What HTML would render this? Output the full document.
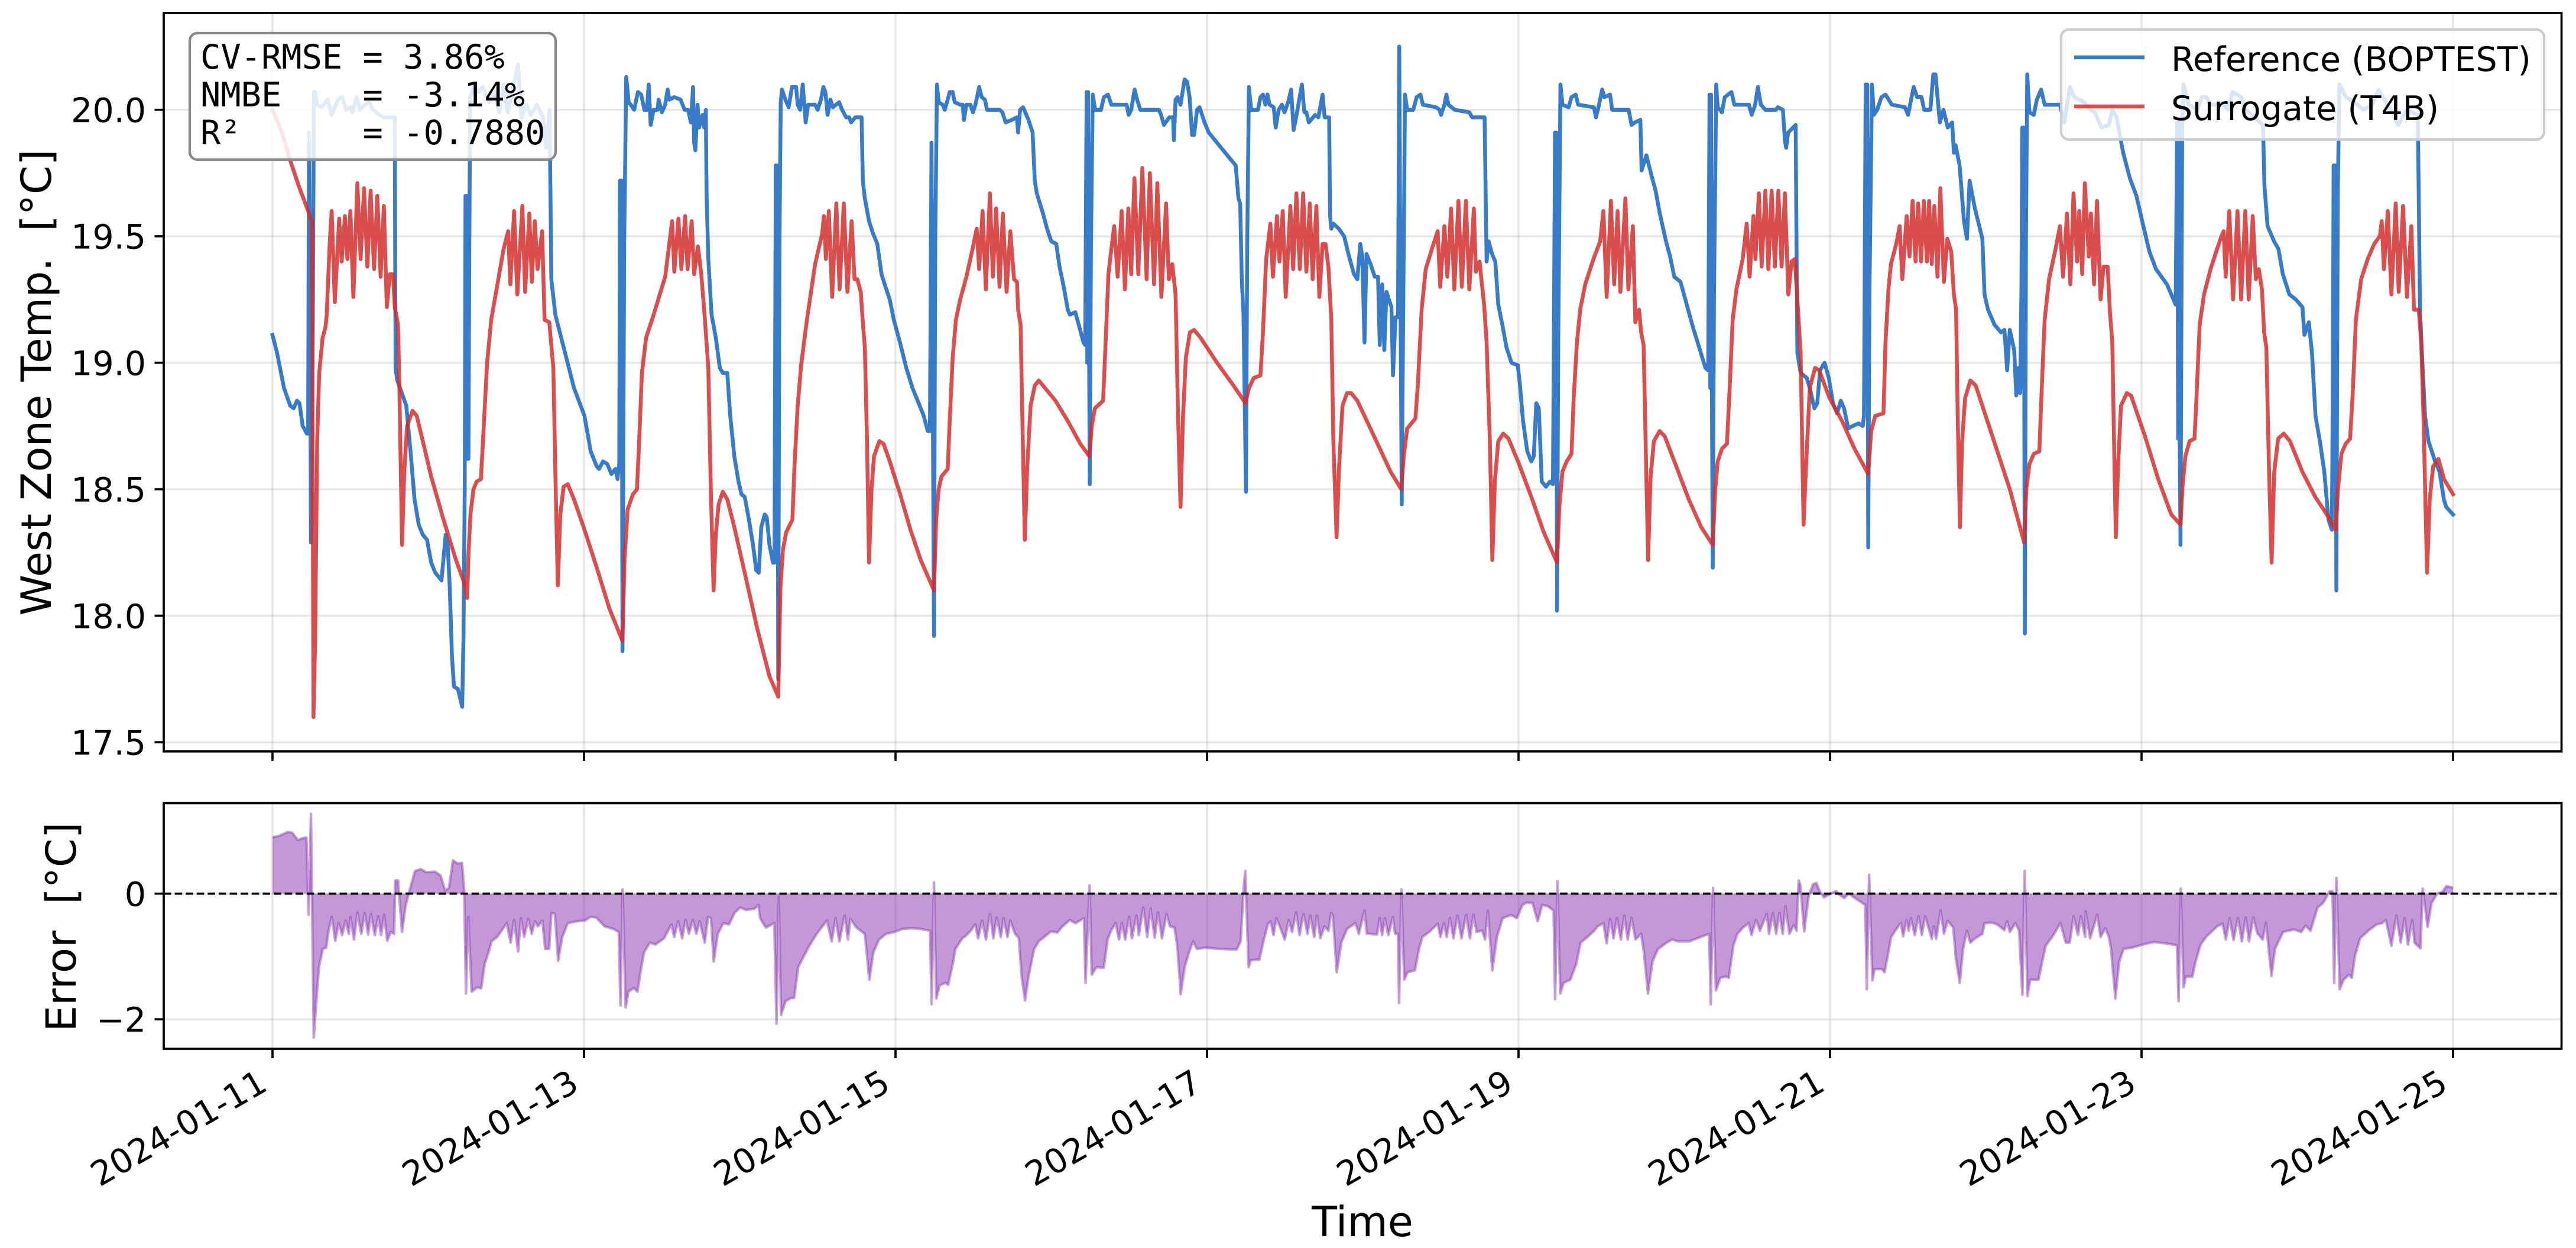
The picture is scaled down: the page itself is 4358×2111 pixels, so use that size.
<!DOCTYPE html>
<html lang="en">
<head>
<meta charset="utf-8">
<title>West Zone Temperature: Reference vs Surrogate</title>
<style>
html,body{margin:0;padding:0;background:#fff;}
svg{display:block;}
text{font-family:"DejaVu Sans","Liberation Sans",sans-serif;fill:#000;}
.mono{font-family:"DejaVu Sans Mono","Liberation Mono",monospace;white-space:pre;}
</style>
</head>
<body>
<svg id="chart" xmlns="http://www.w3.org/2000/svg" width="4358" height="2111" viewBox="0 0 4358 2111">
  <rect x="0" y="0" width="4358" height="2111" fill="#fff"/>
  <defs>
    <clipPath id="clip-top"><rect x="277" y="22" width="4056.5" height="1249"/></clipPath>
    <clipPath id="clip-bottom"><rect x="277" y="1358.5" width="4056.5" height="415.5"/></clipPath>
  </defs>
  <g id="top-grid"></g>
  <g id="bottom-grid"></g>
  <g id="top-series" clip-path="url(#clip-top)"></g>
  <g id="bottom-series" clip-path="url(#clip-bottom)"></g>

  <g>
    <rect x="321" y="56" width="619" height="214" rx="13" ry="13" fill="#fff" fill-opacity="0.85" stroke="#888" stroke-width="4.2"/>
    <text class="mono" x="339" y="116" font-size="57" xml:space="preserve">CV-RMSE = 3.86%</text>
    <text class="mono" x="339" y="180" font-size="57" xml:space="preserve">NMBE    = -3.14%</text>
    <text class="mono" x="339" y="244" font-size="57" xml:space="preserve">R²      = -0.7880</text>
  </g>

  <g>
    <rect x="3487" y="50" width="817" height="186" rx="13" ry="13" fill="#fff" fill-opacity="0.8" stroke="#ccc" stroke-width="4.2"/>
    <line x1="3509" x2="3628" y1="97" y2="97" stroke="#1565C0" stroke-opacity="0.85" stroke-width="6.5"/>
    <text x="3673" y="120" font-size="57">Reference (BOPTEST)</text>
    <line x1="3509" x2="3628" y1="180" y2="180" stroke="#D32F2F" stroke-opacity="0.85" stroke-width="6.5"/>
    <text x="3673" y="203" font-size="57">Surrogate (T4B)</text>
  </g>

  <g id="axes-marks"></g>

  <rect x="277" y="22" width="4056.5" height="1249" fill="none" stroke="#000" stroke-width="3.7"/>
  <rect x="277" y="1358.5" width="4056.5" height="415.5" fill="none" stroke="#000" stroke-width="3.7"/>

  <text transform="translate(86,647) rotate(-90)" text-anchor="middle" font-size="70.2" xml:space="preserve">West Zone Temp.  [°C]</text>
  <text transform="translate(128,1568) rotate(-90)" text-anchor="middle" font-size="70.2" xml:space="preserve">Error  [°C]</text>
  <text x="2305" y="2091" text-anchor="middle" font-size="70.2">Time</text>
</svg>

<script>
// Tick values and labels
const dateTickDays = [0, 2, 4, 6, 8, 10, 12, 14];
const dateTickLabels = ['2024-01-11', '2024-01-13', '2024-01-15', '2024-01-17', '2024-01-19', '2024-01-21', '2024-01-23', '2024-01-25'];
const tempTicks = [17.5, 18.0, 18.5, 19.0, 19.5, 20.0];
const tempTickLabels = ['17.5', '18.0', '18.5', '19.0', '19.5', '20.0'];
const errorTicks = [-2, 0];
const errorTickLabels = ['\u22122', '0'];

// Reference (BOPTEST): days since 2024-01-11 00:00 and zone temperature in °C
const referenceDays = [
0,.029,.074,.114,.136,.157,.173,.194,.221,.229,.234,.242,.247,.258,.266,.274,.287,.314,.354,.38,.42,.447,.473,.5,.513,.54,.561,.593,.62,.646,.686,.713,.785,.79,.801,.819,.859,.886,.912,.939,.965,.992,1.019,1.045,1.085,1.112,1.125,1.138,1.152,1.165,1.191,1.218,
1.226,1.234,1.239,1.244,1.248,1.254,1.258,1.264,1.269,1.298,1.324,1.351,1.391,1.431,1.457,1.484,1.511,1.577,1.598,1.63,1.657,1.697,1.737,1.758,1.779,1.79,1.816,1.87,1.936,2.003,2.043,2.082,2.096,2.122,2.149,2.176,2.202,2.215,
2.226,2.231,2.236,2.241,2.247,2.258,2.271,2.287,2.3,2.322,2.346,2.367,2.388,2.404,2.415,2.428,2.447,2.473,2.479,2.5,2.521,2.537,2.548,2.58,2.62,2.646,2.668,2.686,2.7,2.707,2.715,2.729,2.739,2.761,2.771,2.782,2.787,2.798,2.819,2.846,2.872,2.891,2.92,2.939,2.965,2.992,3.011,3.032,3.059,3.085,3.106,3.122,3.138,3.16,3.173,3.191,3.213,3.223,
3.231,3.236,3.241,3.247,3.255,3.263,3.271,3.293,3.314,3.335,3.362,3.372,3.388,3.404,3.423,3.439,3.484,3.5,3.521,3.537,3.55,3.564,3.582,3.598,3.638,3.657,3.683,3.702,3.715,3.742,3.782,3.79,3.803,3.83,3.856,3.883,3.91,3.936,3.963,3.989,4.029,4.069,4.109,4.149,4.181,4.207,4.221,
4.231,4.239,4.247,4.255,4.266,4.277,4.303,4.316,4.335,4.348,4.367,4.38,4.415,4.431,4.439,4.455,4.481,4.497,4.513,4.537,4.553,4.574,4.588,4.668,4.686,4.707,4.747,4.779,4.787,4.8,4.819,4.854,4.88,4.894,4.907,4.947,4.973,5,5.032,5.053,5.08,5.106,5.12,5.154,5.181,5.207,5.218,
5.227,5.231,5.236,5.241,5.247,5.255,5.266,5.282,5.319,5.338,5.364,5.386,5.465,5.484,5.497,5.513,5.535,5.551,5.572,5.691,5.705,5.723,5.758,5.782,5.787,5.798,5.811,5.83,5.856,5.872,5.888,5.904,5.917,5.936,5.952,5.984,6.011,6.077,6.144,6.184,6.202,6.213,
6.223,6.234,6.25,6.258,6.269,6.283,6.327,6.343,6.359,6.375,6.388,6.402,6.428,6.441,6.46,6.481,6.497,6.521,6.54,6.556,6.575,6.609,6.625,6.638,6.654,6.694,6.715,6.742,6.755,6.784,6.79,6.798,6.811,6.846,6.88,6.912,6.944,6.965,6.984,6.997,7.011,7.024,7.05,7.077,7.098,7.109,7.125,7.138,7.152,7.184,7.194,7.21,7.226,
7.234,7.242,7.25,7.258,7.271,7.285,7.324,7.346,7.37,7.386,7.471,7.492,7.503,7.524,7.537,7.55,7.59,7.684,7.702,7.782,7.795,7.808,7.83,7.851,7.87,7.896,7.923,7.955,7.995,8.008,8.029,8.056,8.082,8.098,8.114,8.13,8.149,8.176,8.202,8.221,
8.229,8.234,8.239,8.243,8.247,8.255,8.269,8.282,8.322,8.34,8.367,8.383,8.484,8.497,8.513,8.537,8.551,8.588,8.601,8.707,8.726,8.747,8.782,8.79,8.821,8.854,8.88,8.907,8.947,8.973,9,9.04,9.08,9.12,9.16,9.2,9.218,
9.226,9.231,9.236,9.24,9.247,9.255,9.269,9.279,9.306,9.324,9.367,9.386,9.479,9.497,9.519,9.537,9.556,9.585,9.652,9.665,9.697,9.71,9.718,9.731,9.779,9.79,9.811,9.851,9.87,9.899,9.918,9.936,9.965,9.992,10.019,10.045,10.069,10.09,10.117,10.144,10.184,10.21,10.218,
10.229,10.234,10.239,10.245,10.253,10.269,10.282,10.303,10.33,10.356,10.397,10.481,10.501,10.537,10.559,10.587,10.604,10.644,10.663,10.677,10.705,10.728,10.756,10.784,10.795,10.806,10.832,10.86,10.879,10.896,10.93,10.978,10.992,11.014,11.056,11.098,11.12,11.137,11.154,11.182,11.196,11.209,11.221,
11.229,11.234,11.239,11.243,11.251,11.258,11.266,11.28,11.308,11.328,11.355,11.378,11.476,11.504,11.54,11.568,11.63,11.672,11.7,11.742,11.79,11.812,11.84,11.882,11.925,11.967,12.008,12.05,12.093,12.163,12.219,
12.229,12.235,12.24,12.245,12.25,12.261,12.27,12.303,12.359,12.387,12.416,12.444,12.528,12.556,12.584,12.64,12.669,12.78,12.789,12.809,12.851,12.879,12.907,12.949,12.991,13.033,13.046,13.074,13.094,13.117,13.145,13.173,13.2,13.222,
13.229,13.233,13.238,13.243,13.251,13.26,13.27,13.312,13.368,13.424,13.48,13.522,13.55,13.592,13.648,13.704,13.774,13.788,13.8,13.82,13.842,13.885,13.913,13.941,13.956,14
];
const referenceTemps = [
19.11,19.04,18.9,18.83,18.82,18.85,18.84,18.75,18.72,18.72,19.91,19.08,18.29,19.08,20.07,20.07,20.02,20.01,20.04,19.98,20.04,20.05,20,20.01,19.99,20.05,20,20.02,20.03,20,19.98,19.97,19.97,18.98,18.93,18.9,18.83,18.65,18.46,18.36,18.32,18.3,18.21,18.17,18.14,18.32,18.28,18.11,17.84,17.72,17.71,17.64,
17.91,18.5,19.66,18.9,19.66,18.62,18.62,19.5,20.05,20.1,20.07,20.09,20.03,20.07,19.99,20.1,19.99,20.18,19.97,20.02,19.98,20.02,19.97,19.85,20,19.33,19.19,19.06,18.9,18.79,18.65,18.59,18.58,18.61,18.6,18.56,18.58,18.54,
18.6,19.72,18.6,19.72,17.86,19.47,20.13,20.03,20.02,20,20.07,20.06,20,20,20.1,19.94,20,20,20.04,19.99,20.02,20.08,20.04,20.05,20.04,20,20,19.95,20.09,19.87,19.84,20.02,19.93,19.98,19.93,20,19.66,19.41,19.19,19.1,18.98,18.96,18.96,18.79,18.63,18.53,18.48,18.47,18.38,18.28,18.18,18.17,18.35,18.4,18.39,18.28,18.21,18.21,
19.78,18.4,19.78,17.75,19.47,20.03,20.08,20.04,20.01,20.09,20.09,20.02,20,20.1,19.95,20.02,20.02,20,20.04,20.09,20.07,19.98,20.04,20.01,20.03,20,19.97,19.97,19.95,19.97,19.97,19.72,19.65,19.56,19.51,19.47,19.35,19.3,19.25,19.17,19.08,18.98,18.9,18.84,18.79,18.73,18.73,
19.87,18.88,17.92,19.47,20.1,20.03,20.02,20,20.04,20.07,20.07,20.03,20.02,20.02,19.96,20.02,20.02,19.99,20.02,20.09,20.05,20.04,20,20,19.99,19.95,19.96,19.97,19.91,20,20.01,19.96,19.91,19.72,19.67,19.59,19.53,19.48,19.47,19.38,19.3,19.21,19.19,19.2,19.14,19.08,19.07,
20.07,19.0,20.07,19.27,18.52,19.47,20.06,20,20,20.05,20.06,20.02,20.02,20.02,19.98,20,20.08,20.04,20,20,19.98,19.94,19.97,19.97,19.88,20.04,20.05,20.02,20.12,20.11,20.05,19.9,19.9,20,20.01,19.95,19.91,19.86,19.81,19.78,19.65,19.63,
19.33,19.19,18.49,19.47,20.09,20,20,20.05,20.06,20.02,20.06,20.02,20.01,19.93,20,20.02,19.99,20.03,20.08,19.92,19.98,20.1,19.99,19.99,19.95,19.98,19.97,20.06,19.97,19.97,19.58,19.53,19.55,19.53,19.5,19.42,19.35,19.33,19.47,19.42,19.08,19.43,19.39,19.34,19.34,19.07,19.31,19.05,19.28,19.22,18.95,19.18,19.18,
20.25,19.27,18.44,19.08,20.06,20,20,20.05,20.06,20.02,20.01,20,19.98,20.02,20.06,20.02,20,19.99,19.97,19.97,19.4,19.48,19.43,19.4,19.23,19.15,19.06,19,18.99,18.92,18.77,18.65,18.61,18.63,18.84,18.82,18.53,18.51,18.53,18.52,
19.3,19.91,18.6,19.91,18.02,19.08,20.1,20.02,20.01,20.05,20.06,20.02,20.01,19.97,20.01,20.08,20.05,20.06,20,20,19.94,19.95,19.96,19.76,19.82,19.74,19.68,19.59,19.48,19.42,19.34,19.32,19.23,19.14,19.06,18.98,18.97,
20.06,18.9,20.06,19.08,18.19,19.27,20.1,20.01,19.99,20.05,20.07,20.02,20.02,19.98,20.02,20.09,20.02,20,20,20.01,20,19.88,19.85,19.91,19.94,19.04,18.96,18.94,18.9,18.82,18.84,18.97,19,18.94,18.84,18.8,18.85,18.82,18.74,18.75,18.76,18.75,18.79,
20.1,19.0,20.1,18.27,19.27,20.1,19.98,20,20.05,20.06,20.02,20.01,19.98,20.09,20.05,20.05,20,20,20.14,20.14,19.95,20,19.93,19.95,19.83,19.86,19.78,19.56,19.49,19.72,19.61,19.49,19.27,19.21,19.15,19.12,19.13,18.97,19.13,19.05,18.87,18.98,18.88,
19.3,19.93,18.9,19.93,17.93,19.5,20.14,19.99,19.98,20.04,20.08,20.02,20.02,19.95,20.09,20.05,20.03,20,19.99,19.93,19.94,20,19.97,19.83,19.73,19.66,19.55,19.44,19.37,19.31,19.23,
19.95,18.7,19.95,18.7,18.28,19.95,20.1,20.02,20,20.05,20.05,20.02,20.02,20,20.07,20.05,20,19.94,19.7,19.54,19.48,19.45,19.35,19.27,19.25,19.22,19.11,19.16,19.04,18.79,18.69,18.57,18.38,18.34,
19.0,19.78,18.8,19.78,18.1,19.66,20.1,20.05,20.03,20,20.02,20.08,20.05,20.01,19.94,20,19.98,19.21,19.04,18.79,18.69,18.61,18.57,18.46,18.43,18.4
];

// Surrogate (T4B): days since 2024-01-11 00:00 and zone temperature in °C
const surrogateDays = [
0,.061,.114,.168,.253,.263,.274,.287,.3,.322,.34,.348,.367,.38,.4,.428,.444,.465,.481,.5,.519,.545,.566,.588,.609,.63,.652,.673,.694,.715,.734,.753,.774,.785,.806,.814,.832,.846,.864,.899,.926,.965,1.019,1.098,1.178,1.231,1.25,
1.258,1.271,1.29,1.311,1.338,1.351,1.378,1.404,1.444,1.484,1.513,1.527,1.551,1.572,1.604,1.622,1.649,1.665,1.684,1.702,1.731,1.747,1.777,1.803,1.816,1.832,1.848,1.869,1.896,1.936,2.003,2.082,2.162,2.247,
2.26,2.28,2.314,2.34,2.354,2.372,2.399,2.447,2.521,2.566,2.58,2.606,2.625,2.649,2.665,2.691,2.707,2.731,2.753,2.774,2.798,2.814,2.832,2.846,2.864,2.891,2.92,2.965,3.032,3.112,3.191,3.247,
3.261,3.277,3.298,3.338,3.351,3.372,3.394,3.431,3.484,3.529,3.54,3.553,3.572,3.593,3.62,3.641,3.668,3.691,3.718,3.737,3.755,3.777,3.79,3.803,3.817,3.83,3.846,3.862,3.896,3.923,3.963,4.03,4.096,4.162,4.247,
4.261,4.277,4.295,4.335,4.348,4.367,4.388,4.415,4.455,4.495,4.521,4.537,4.559,4.58,4.606,4.625,4.646,4.668,4.689,4.713,4.737,4.761,4.78,4.787,4.803,4.814,4.83,4.846,4.867,4.894,4.92,4.96,5.027,5.106,5.186,5.245,
5.26,5.28,5.333,5.346,5.367,5.386,5.404,5.426,5.452,5.473,5.495,5.513,5.534,5.559,5.585,5.612,5.633,5.66,5.681,5.707,5.737,5.755,5.777,5.798,5.814,5.83,5.846,5.864,5.89,5.917,5.957,6.064,6.17,6.247,
6.269,6.3,6.343,6.359,6.38,6.407,6.423,6.449,6.465,6.486,6.505,6.535,6.553,6.574,6.596,6.617,6.638,6.66,6.678,6.702,6.721,6.742,6.761,6.779,6.798,6.811,6.832,6.848,6.87,6.899,6.926,6.965,7.072,7.178,7.247,
7.263,7.285,7.338,7.354,7.378,7.404,7.444,7.481,7.497,7.524,7.543,7.567,7.588,7.614,7.636,7.662,7.684,7.713,7.726,7.75,7.763,7.779,7.795,7.816,7.832,7.848,7.87,7.902,7.936,8.003,8.082,8.162,8.247,
8.263,8.282,8.309,8.34,8.354,8.375,8.396,8.428,8.481,8.524,8.545,8.566,8.593,8.614,8.636,8.654,8.686,8.705,8.734,8.75,8.774,8.787,8.803,8.816,8.832,8.848,8.869,8.906,8.938,9.013,9.093,9.173,9.247,
9.263,9.279,9.306,9.338,9.354,9.375,9.399,9.439,9.465,9.484,9.508,9.521,9.543,9.561,9.585,9.604,9.625,9.646,9.668,9.689,9.71,9.732,9.753,9.774,9.79,9.811,9.83,9.846,9.87,9.904,9.93,9.997,10.077,10.157,10.245,
10.264,10.29,10.343,10.356,10.375,10.391,10.425,10.447,10.464,10.492,10.51,10.53,10.549,10.566,10.585,10.602,10.622,10.636,10.653,10.67,10.69,10.708,10.731,10.753,10.778,10.795,10.809,10.82,10.834,10.848,10.867,10.901,10.935,11.042,11.154,11.246,
11.26,11.28,11.308,11.344,11.358,11.378,11.406,11.448,11.476,11.496,11.521,11.543,11.563,11.586,11.6,11.619,11.636,11.661,11.675,11.695,11.714,11.737,11.756,11.782,11.798,11.812,11.826,11.835,11.849,11.868,11.905,11.933,12.022,12.107,12.191,12.25,
12.264,12.281,12.309,12.34,12.354,12.373,12.401,12.443,12.485,12.513,12.527,12.54,12.563,12.588,12.616,12.639,12.666,12.688,12.714,12.734,12.753,12.773,12.787,12.801,12.818,12.835,12.852,12.877,12.913,12.953,13.032,13.115,13.2,13.247,
13.261,13.283,13.311,13.339,13.356,13.376,13.41,13.452,13.494,13.53,13.542,13.556,13.581,13.604,13.632,13.651,13.679,13.704,13.732,13.749,13.78,13.796,13.81,13.833,13.85,13.872,13.906,13.942,14
];
const surrogateTemps = [
20,19.91,19.8,19.7,19.56,17.6,17.91,18.69,18.96,19.1,19.14,19.19,19.47,19.6,19.24,19.57,19.4,19.58,19.41,19.6,19.26,19.71,19.41,19.69,19.38,19.68,19.37,19.66,19.34,19.62,19.22,19.35,19.35,19.22,19.15,18.92,18.28,18.57,18.75,18.81,18.79,18.69,18.55,18.38,18.22,18.13,18.07,
18.24,18.4,18.5,18.53,18.54,18.69,19,19.17,19.31,19.45,19.52,19.31,19.6,19.27,19.62,19.28,19.59,19.32,19.56,19.37,19.52,19.17,19.16,18.98,18.57,18.12,18.4,18.51,18.52,18.46,18.34,18.19,18.03,17.9,
18.22,18.42,18.48,18.5,18.69,18.96,19.1,19.19,19.34,19.56,19.36,19.57,19.37,19.58,19.37,19.56,19.35,19.46,19.35,19.19,18.98,18.5,18.1,18.32,18.44,18.49,18.46,18.35,18.17,17.95,17.76,17.68,
18.11,18.26,18.33,18.38,18.59,18.83,18.99,19.17,19.39,19.51,19.58,19.41,19.6,19.26,19.63,19.29,19.63,19.28,19.56,19.33,19.33,19.28,19.16,19.06,18.69,18.21,18.5,18.63,18.69,18.68,18.61,18.48,18.34,18.22,18.1,
18.38,18.5,18.55,18.58,18.77,19.02,19.17,19.25,19.34,19.45,19.53,19.37,19.6,19.29,19.67,19.34,19.61,19.3,19.59,19.28,19.52,19.33,19.32,19.21,19.15,18.79,18.3,18.59,18.83,18.91,18.93,18.9,18.85,18.77,18.68,18.63,
18.75,18.82,18.85,19.04,19.35,19.45,19.54,19.34,19.6,19.29,19.61,19.35,19.73,19.35,19.77,19.33,19.75,19.31,19.71,19.26,19.63,19.33,19.39,19.27,18.79,18.43,18.79,19.02,19.12,19.13,19.1,19,18.91,18.84,
18.9,18.94,18.95,19.12,19.41,19.55,19.34,19.58,19.4,19.6,19.26,19.62,19.37,19.67,19.37,19.67,19.36,19.63,19.33,19.62,19.26,19.47,19.47,19.38,19.17,18.69,18.31,18.59,18.83,18.88,18.88,18.85,18.71,18.57,18.5,
18.63,18.74,18.78,18.92,19.21,19.37,19.45,19.52,19.3,19.54,19.34,19.61,19.29,19.64,19.3,19.64,19.29,19.61,19.36,19.4,19.32,19.23,19.08,18.69,18.22,18.53,18.69,18.72,18.7,18.6,18.47,18.33,18.21,
18.44,18.57,18.61,18.64,18.86,19.08,19.21,19.31,19.41,19.48,19.6,19.26,19.64,19.31,19.6,19.28,19.65,19.29,19.54,19.16,19.21,19.12,19.07,18.69,18.22,18.55,18.69,18.73,18.71,18.59,18.46,18.35,18.28,
18.5,18.61,18.66,18.68,18.88,19.17,19.29,19.41,19.55,19.34,19.58,19.41,19.67,19.38,19.68,19.37,19.68,19.38,19.68,19.38,19.67,19.27,19.4,19.41,19.25,19.04,18.36,18.59,18.9,18.98,18.97,18.86,18.77,18.66,18.56,
18.73,18.79,18.8,19.08,19.29,19.39,19.47,19.54,19.33,19.58,19.42,19.64,19.4,19.63,19.4,19.64,19.4,19.64,19.39,19.62,19.34,19.69,19.32,19.49,19.44,19.27,19.21,18.77,18.35,18.69,18.86,18.93,18.91,18.71,18.5,18.29,
18.5,18.6,18.64,18.65,18.88,19.17,19.33,19.45,19.54,19.34,19.59,19.31,19.67,19.4,19.6,19.35,19.71,19.42,19.59,19.31,19.64,19.25,19.38,19.38,19.19,19.08,18.59,18.31,18.59,18.83,18.88,18.87,18.71,18.54,18.4,18.36,
18.52,18.63,18.69,18.7,18.88,19.15,19.27,19.37,19.45,19.5,19.52,19.34,19.6,19.25,19.6,19.25,19.6,19.25,19.58,19.33,19.37,19.29,19.12,19.06,18.59,18.21,18.57,18.7,18.72,18.69,18.57,18.47,18.39,18.34,
18.5,18.64,18.68,18.7,18.88,19.17,19.33,19.41,19.47,19.5,19.56,19.37,19.6,19.27,19.63,19.28,19.62,19.26,19.54,19.21,19.21,19.08,18.79,18.17,18.46,18.59,18.62,18.54,18.48
];

// Prediction error (surrogate minus reference), °C
const errorDays = [
0,.044,.098,.127,.163,.189,.218,.232,.247,.265,.276,.298,.323,.345,.36,.381,.403,.425,.447,.469,.49,.501,.523,.545,.57,.592,.614,.632,.657,.679,.697,.716,.737,.759,.781,.788,.806,.832,.854,.879,.915,.952,.988,1.043,1.079,1.108,1.133,1.159,1.188,1.217,1.231,1.242,1.257,1.279,1.315,1.34,1.362,1.388,1.406,1.442,1.479,1.504,1.529,1.551,1.577,1.595,1.616,1.642,1.664,1.685,1.704,1.733,1.751,1.776,1.791,1.813,1.834,1.86,1.896,1.951,2.005,2.041,2.078,2.132,2.187,2.223,
2.234,2.248,2.267,2.285,2.321,2.343,2.368,2.386,2.423,2.459,2.514,2.561,2.579,2.604,2.63,2.652,2.674,2.699,2.721,2.743,2.775,2.797,2.815,2.833,2.859,2.895,2.931,2.968,3.004,3.04,3.095,3.12,3.131,3.167,3.222,
3.236,3.251,3.265,3.294,3.33,3.349,3.375,3.404,3.44,3.494,3.531,3.56,3.59,3.615,3.64,3.673,3.695,3.71,3.749,3.803,3.832,3.858,3.894,3.94,3.993,4.047,4.102,4.156,4.222,
4.232,4.247,4.262,4.283,4.32,4.338,4.367,4.385,4.429,4.447,4.483,4.512,4.53,4.556,4.581,4.607,4.628,4.65,4.676,4.694,4.719,4.737,4.766,4.792,4.81,4.832,4.854,4.89,4.919,4.955,4.999,5.039,5.072,5.119,5.155,5.21,
5.22,5.246,5.26,5.29,5.337,5.362,5.384,5.413,5.435,5.453,5.475,5.5,5.518,5.547,5.562,5.591,5.616,5.638,5.664,5.685,5.711,5.74,5.762,5.791,5.809,5.831,5.856,5.885,5.911,5.936,5.99,6.081,6.19,6.216,
6.234,6.245,6.267,6.281,6.336,6.365,6.39,6.408,6.427,6.445,6.47,6.499,6.525,6.546,6.572,6.594,6.619,6.645,6.663,6.688,6.706,6.728,6.754,6.779,6.797,6.808,6.833,6.862,6.899,6.953,6.975,7.011,7.026,7.091,7.109,7.124,7.142,7.164,7.193,7.208,7.226,
7.233,7.248,7.266,7.288,7.335,7.361,7.383,7.427,7.481,7.499,7.521,7.539,7.56,7.582,7.608,7.634,7.663,7.688,7.71,7.731,7.767,7.785,7.803,7.832,7.861,7.898,7.952,7.989,8.025,8.054,8.09,8.123,8.152,8.188,8.225,
8.235,8.25,8.268,8.29,8.333,8.37,8.399,8.443,8.486,8.508,8.545,8.566,8.588,8.61,8.632,8.657,8.679,8.701,8.726,8.751,8.787,8.805,8.831,8.86,8.896,8.951,8.987,9.024,9.096,9.169,9.224,
9.234,9.249,9.267,9.296,9.332,9.35,9.379,9.405,9.441,9.478,9.496,9.525,9.55,9.594,9.608,9.633,9.654,9.675,9.696,9.714,9.739,9.767,9.785,9.799,9.809,9.834,9.862,9.891,9.912,9.933,9.961,10.004,10.039,10.067,10.092,10.12,10.166,10.226,
10.236,10.251,10.272,10.286,10.332,10.35,10.371,10.392,10.438,10.455,10.469,10.491,10.505,10.519,10.544,10.568,10.589,10.611,10.653,10.667,10.681,10.71,10.731,10.755,10.791,10.808,10.833,10.854,10.879,10.9,10.932,10.978,10.992,11.038,11.073,11.119,11.137,11.154,11.19,11.214,
11.235,11.25,11.267,11.285,11.338,11.359,11.384,11.426,11.479,11.514,11.539,11.564,11.592,11.61,11.638,11.641,11.67,11.715,11.737,11.768,11.79,11.804,11.832,11.857,11.885,11.938,12.008,12.079,12.15,12.227,
12.238,12.252,12.27,12.284,12.326,12.347,12.379,12.414,12.485,12.52,12.541,12.566,12.591,12.619,12.644,12.669,12.69,12.718,12.743,12.778,12.799,12.834,12.856,12.909,12.979,13.025,13.053,13.085,13.13,13.166,13.208,13.226,
13.237,13.251,13.272,13.297,13.332,13.35,13.371,13.403,13.456,13.509,13.544,13.569,13.604,13.636,13.664,13.689,13.71,13.738,13.752,13.773,13.791,13.805,13.837,13.862,13.897,13.932,13.957,13.992,14
];
const errorValues = [
.895,.92,.98,.97,.85,.88,.895,-.336,1.27,-2.29,-1.9,-1.17,-.88,-.86,-.59,-.37,-.75,-.47,-.66,-.43,-.64,-.37,-.73,-.3,-.64,-.31,-.65,-.32,-.66,-.36,-.66,-.34,-.75,-.61,-.64,.21,.21,-.61,-.2,.04,.36,.39,.34,.35,.29,.05,.09,.53,.48,.49,.04,-1.59,-.37,-1.56,-1.49,-1.51,-1.12,-.93,-.76,-.69,-.56,-.47,-.78,-.42,-.92,-.39,-.69,-.4,-.64,-.44,-.52,-.43,-.88,-.88,-.31,-.32,-1.07,-.69,-.47,-.44,-.43,-.37,-.38,-.52,-.56,-.61,
-1.78,.07,-1.81,-1.56,-1.5,-1.56,-1.17,-.93,-.78,-.81,-.71,-.49,-.69,-.44,-.71,-.42,-.64,-.42,-.64,-.44,-.78,-.37,-.39,-1.08,-.64,-.47,-.49,-.3,-.22,-.26,-.24,-.18,-.39,-.54,-.47,
-2.07,-.05,-1.93,-1.71,-1.66,-1.66,-1.17,-1.03,-.86,-.64,-.52,-.43,-.76,-.39,-.76,-.35,-.73,-.4,-.54,-.64,-1.37,-.93,-.73,-.64,-.61,-.56,-.55,-.56,-.59,
-1.76,.18,-1.67,-1.46,-1.42,-1.45,-1.12,-.88,-.71,-.68,-.59,-.49,-.71,-.43,-.73,-.32,-.71,-.38,-.69,-.39,-.69,-.43,-.63,-.71,-1.32,-1.7,-1.32,-.88,-.76,-.69,-.6,-.62,-.52,-.42,-.47,-.39,
-1.42,.13,-1.29,-1.17,-1.18,-.73,-.59,-.47,-.73,-.47,-.73,-.37,-.71,-.35,-.66,-.22,-.69,-.24,-.7,-.3,-.71,-.32,-.52,-.54,-.83,-1.6,-1.17,-.93,-.76,-.88,-.86,-.88,-.89,-.76,
.04,.36,-1.17,-1.06,-1.05,-.73,-.49,-.44,-.66,-.39,-.54,-.73,-.42,-.61,-.3,-.66,-.32,-.64,-.35,-.69,-.35,-.71,-.52,-.59,-.31,-.35,-1.25,-.78,-.56,-.47,-.64,-.27,-.64,-.65,-.39,-.66,-.39,-.66,-.37,-.64,-.64,
-1.74,.07,-1.37,-1.25,-1.22,-.88,-.69,-.61,-.48,-.69,-.47,-.69,-.39,-.71,-.35,-.71,-.34,-.71,-.34,-.61,-.59,-.73,-.27,-1.22,-.69,-.39,-.34,-.39,-.18,-.14,-.15,-.44,-.18,-.2,-.27,
-1.68,.2,-1.59,-1.42,-1.37,-1.12,-.78,-.69,-.59,-.52,-.47,-.79,-.4,-.71,-.39,-.73,-.35,-.73,-.39,-.73,-.64,-.93,-1.59,-1.08,-.88,-.78,-.73,-.76,-.76,-.69,-.64,
-1.76,.09,-1.54,-1.34,-1.32,-1.34,-.83,-.64,-.54,-.47,-.66,-.42,-.59,-.32,-.64,-.31,-.64,-.31,-.64,-.2,-.64,-.5,-.59,.21,.14,-.6,-.05,.15,.17,.04,-.06,0,.04,-.03,-.07,0,-.08,-.18,
-1.52,.3,-1.38,-1.2,-1.2,-1.25,-.98,-.69,-.52,-.47,-.68,-.42,-.59,-.39,-.66,-.36,-.66,-.36,-.72,-.52,-.72,-.27,-.64,-.43,-.54,-1.03,-1.42,-.88,-.59,-.78,-.71,-.64,-.47,-.46,-.49,-.58,-.44,-.61,-.47,-.59,
-1.61,.36,-1.63,-1.37,-1.37,-1.12,-.83,-.69,-.47,-.78,-.78,-.36,-.66,-.36,-.69,-.28,-.71,-.34,-.69,-.55,-.69,-.88,-1.67,-1.08,-.88,-.86,-.81,-.77,-.79,-.82,
-1.71,.08,-1.49,-1.32,-1.32,-1.08,-.81,-.69,-.52,-.48,-.73,-.39,-.74,-.39,-.76,-.38,-.76,-.38,-.63,-.73,-.47,-1.31,-.88,-.61,-.57,-.61,-.51,-.59,-.22,-.15,.04,.04,
-1.42,.25,-1.52,-1.37,-1.29,-1.34,-.98,-.71,-.59,-.49,-.47,-.42,-.83,-.35,-.78,-.39,-.81,-.42,-.78,-.83,-.87,.08,-.53,-.15,0,.03,.12,.1,.09
];

// Axis functions
function dayToX(d) { return 461 + d * 263.5; }
function tempToY(t) { return 185.7 + (20 - t) * 427.9; }
function errorToY(e) { return 1511.6 - e * 106.3; }

const SVGNS = 'http://www.w3.org/2000/svg';
function createSvg(tag, attrs) {
  const el = document.createElementNS(SVGNS, tag);
  for (const k in attrs) el.setAttribute(k, attrs[k]);
  return el;
}
function buildPath(days, values, yFn) {
  const n = Math.min(days.length, values.length);
  let d = '';
  for (let i = 0; i < n; i++) {
    d += (i ? 'L' : 'M') + dayToX(days[i]).toFixed(1) + ' ' + yFn(values[i]).toFixed(1);
  }
  return d;
}

const topGrid = document.getElementById('top-grid');
const bottomGrid = document.getElementById('bottom-grid');
const marks = document.getElementById('axes-marks');
const topSeries = document.getElementById('top-series');
const bottomSeries = document.getElementById('bottom-series');

const GRID = {stroke: '#b0b0b0', 'stroke-opacity': 0.3, 'stroke-width': 3.7};

// Date ticks, grid lines and labels
dateTickDays.forEach(function (d, i) {
  const x = dayToX(d);
  const g1 = createSvg('line', Object.assign({x1: x, x2: x, y1: 22, y2: 1271}, GRID));
  
  
  topGrid.appendChild(g1);
  const g2 = createSvg('line', Object.assign({x1: x, x2: x, y1: 1358.5, y2: 1774}, GRID));
  
  
  bottomGrid.appendChild(g2);
  const t1 = createSvg('line', {x1: x, x2: x, y1: 1271, y2: 1287, stroke: '#000', 'stroke-width': 3.7});
  
  
  marks.appendChild(t1);
  const t2 = createSvg('line', {x1: x, x2: x, y1: 1774, y2: 1790, stroke: '#000', 'stroke-width': 3.7});
  
  
  marks.appendChild(t2);
  const lab = createSvg('text', {'font-size': 57, 'text-anchor': 'end', transform: 'translate(' + (x - 5.6) + ',1842.5) rotate(-30)'});
  lab.textContent = dateTickLabels[i];
  
  
  marks.appendChild(lab);
});

// Temperature ticks
tempTicks.forEach(function (v, i) {
  const y = tempToY(v);
  const g = createSvg('line', Object.assign({x1: 277, x2: 4333.5, y1: y, y2: y}, GRID));
  
  
  topGrid.appendChild(g);
  const t = createSvg('line', {x1: 261.5, x2: 277, y1: y, y2: y, stroke: '#000', 'stroke-width': 3.7});
  
  
  marks.appendChild(t);
  const lab = createSvg('text', {x: 247, y: y + 20.8, 'font-size': 57, 'text-anchor': 'end'});
  lab.textContent = tempTickLabels[i];
  
  
  marks.appendChild(lab);
});

// Error ticks
errorTicks.forEach(function (v, i) {
  const y = errorToY(v);
  const g = createSvg('line', Object.assign({x1: 277, x2: 4333.5, y1: y, y2: y}, GRID));
  
  
  bottomGrid.appendChild(g);
  const t = createSvg('line', {x1: 261.5, x2: 277, y1: y, y2: y, stroke: '#000', 'stroke-width': 3.7});
  
  
  marks.appendChild(t);
  const lab = createSvg('text', {x: 247, y: y + 20.8, 'font-size': 57, 'text-anchor': 'end'});
  lab.textContent = errorTickLabels[i];
  
  
  marks.appendChild(lab);
});

// Temperature series
const referenceLine = createSvg('path', {d: buildPath(referenceDays, referenceTemps, tempToY), fill: 'none', stroke: '#1565C0', 'stroke-opacity': 0.85, 'stroke-width': 6.5, 'stroke-linejoin': 'round', 'stroke-linecap': 'square'});


topSeries.appendChild(referenceLine);

const surrogateLine = createSvg('path', {d: buildPath(surrogateDays, surrogateTemps, tempToY), fill: 'none', stroke: '#D32F2F', 'stroke-opacity': 0.85, 'stroke-width': 6.5, 'stroke-linejoin': 'round', 'stroke-linecap': 'square'});


topSeries.appendChild(surrogateLine);

// Error series
const errorLinePath = buildPath(errorDays, errorValues, errorToY);
const lastErrorDay = errorDays[Math.min(errorDays.length, errorValues.length) - 1];
const errorArea = createSvg('path', {
  d: errorLinePath + 'L' + dayToX(lastErrorDay).toFixed(1) + ' ' + errorToY(0).toFixed(1) + 'L' + dayToX(errorDays[0]).toFixed(1) + ' ' + errorToY(0).toFixed(1) + 'Z',
  fill: '#9044b4', 'fill-opacity': 0.55, stroke: 'none'
});


bottomSeries.appendChild(errorArea);

const errorLine = createSvg('path', {d: errorLinePath, fill: 'none', stroke: '#9044b4', 'stroke-opacity': 0.5, 'stroke-width': 4.4, 'stroke-linejoin': 'round'});


bottomSeries.appendChild(errorLine);

const zeroLine = createSvg('line', {x1: 277, x2: 4333.5, y1: errorToY(0), y2: errorToY(0), stroke: '#000', 'stroke-width': 3.7, 'stroke-dasharray': '12.6 6'});


bottomSeries.appendChild(zeroLine);
</script>
</body>
</html>
